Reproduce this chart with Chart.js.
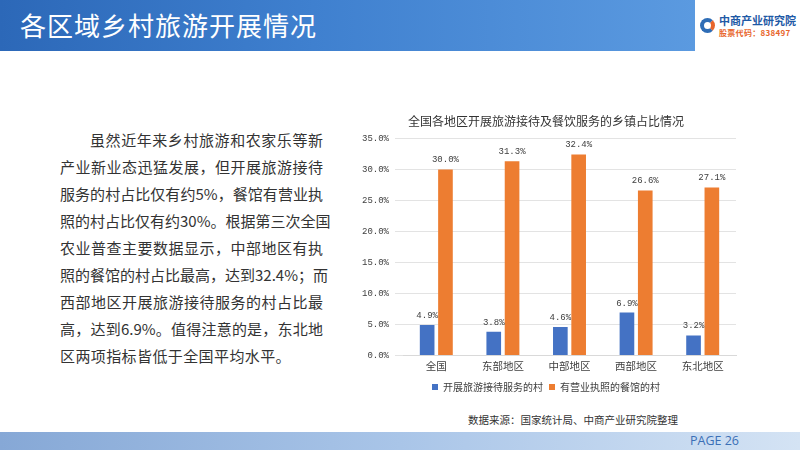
<!doctype html>
<html>
<head>
<meta charset="utf-8">
<script src="https://cdn.jsdelivr.net/npm/chart.js@4.4.8/dist/chart.umd.min.js"></script>
<style>
  html, body { margin: 0; padding: 0; background: #fff; }
  body { width: 800px; height: 450px; position: relative; overflow: hidden;
         font-family: "Noto Sans CJK SC", "Noto Sans", sans-serif; }
  #head { position: absolute; left: 0; top: 0; width: 695px; height: 51px;
          background: linear-gradient(90deg, #2c68b8 0%, #3f80cf 45%, #5b9ae0 100%); }
  #head h1 { margin: 0; position: absolute; left: 20px; top: 6px; color: #fff;
             font-size: 26px; font-weight: 400; letter-spacing: 1px; }
  #logo { position: absolute; left: 700px; top: 15px; }
  #logo .ring { position: absolute; left: 0; top: 3px; width: 15px; height: 15px; border-radius: 50%;
                border: 4px solid #2e6db6; border-right-color: #e8652b; box-sizing: border-box; }
  #logo .n { position: absolute; left: 19px; top: -3px; font-size: 11px; font-weight: 700;
             color: #1f5aa6; white-space: nowrap; }
  #logo .c { position: absolute; left: 19px; top: 12px; font-size: 8px; font-weight: 700;
             color: #e8652b; white-space: nowrap; letter-spacing: 0.3px; }
  #text { position: absolute; left: 60px; top: 126px; width: 263px; font-size: 15px;
          line-height: 27px; color: #333; }
  #text div { text-align: justify; text-align-last: justify; white-space: nowrap; }
  #text div.first { padding-left: 30px; }
  #text div.last { text-align-last: left; letter-spacing: 0.4px; }
  #box { position: absolute; left: 348px; top: 110px; width: 410px; height: 292px; }
  #src { position: absolute; left: 468px; top: 412px; font-size: 10.5px; color: #333; line-height: 16px; }
  #foot { position: absolute; left: 0; top: 432px; width: 800px; height: 18px;
          background: linear-gradient(90deg, #86a8d6 0%, #a9c5e8 50%, #d4e3f4 100%); }
  #page { position: absolute; left: 690px; top: 432px; font-size: 12.5px; color: #3a6fb6;
          font-family: "Open Sans", sans-serif; line-height: 18px; }
</style>
</head>
<body>
<div id="head"><h1>各区域乡村旅游开展情况</h1></div>
<div id="logo"><div class="ring"></div><div class="n">中商产业研究院</div><div class="c">股票代码：838497</div></div>
<div id="text">
  <div class="first">虽然近年来乡村旅游和农家乐等新</div>
  <div>产业新业态迅猛发展，但开展旅游接待</div>
  <div>服务的村占比仅有约5%，餐馆有营业执</div>
  <div>照的村占比仅有约30%。根据第三次全国</div>
  <div>农业普查主要数据显示，中部地区有执</div>
  <div>照的餐馆的村占比最高，达到32.4%；而</div>
  <div>西部地区开展旅游接待服务的村占比最</div>
  <div>高，达到6.9%。值得注意的是，东北地</div>
  <div class="last">区两项指标皆低于全国平均水平。</div>
</div>
<div id="box"><canvas id="chart"></canvas></div>
<div id="src">数据来源：国家统计局、中商产业研究院整理</div>
<div id="foot"></div>
<div id="page">PAGE 26</div>

<script>
const regions = ["全国", "东部地区", "中部地区", "西部地区", "东北地区"];
const tourismVillages = [4.9, 3.8, 4.6, 6.9, 3.2];
const licensedRestaurantVillages = [30.0, 31.3, 32.4, 26.6, 27.1];
const seriesNames = ["开展旅游接待服务的村", "有营业执照的餐馆的村"];
const chartTitle = "全国各地区开展旅游接待及餐饮服务的乡镇占比情况";

const barLabels = {
    id: "barLabels",
    afterDatasetsDraw(chart) {
        const ctx = chart.ctx;
        ctx.save();
        ctx.font = "9px 'Liberation Mono', monospace";
        ctx.fillStyle = "#404040";
        ctx.textAlign = "center";
        ctx.textBaseline = "bottom";
        chart.data.datasets.forEach((ds, i) => {
            chart.getDatasetMeta(i).data.forEach((bar, j) => {
                ctx.fillText(ds.data[j].toFixed(1) + "%", bar.x, bar.y - 5);
            });
        });
        ctx.restore();
    }
};

new Chart(document.getElementById("chart"), {
    type: "bar",
    data: {
        labels: regions,
        datasets: [{
            label: seriesNames[0],
            data: tourismVillages,
            backgroundColor: "#4472C4",
            categoryPercentage: 0.55,
            barPercentage: 0.8
        }, {
            label: seriesNames[1],
            data: licensedRestaurantVillages,
            backgroundColor: "#ED7D31",
            categoryPercentage: 0.55,
            barPercentage: 0.8
        }]
    },
    options: {
        responsive: true,
        maintainAspectRatio: false,
        animation: false,
        layout: { padding: { left: 8, right: 22 } },
        scales: {
            x: {
                grid: { display: false, drawTicks: false },
                border: { color: "#d9d9d9" },
                ticks: { color: "#404040", font: { size: 10.5, family: "'Noto Sans CJK SC'" }, padding: 4 }
            },
            y: {
                min: 0,
                max: 35,
                ticks: {
                    stepSize: 5,
                    color: "#404040",
                    padding: 6,
                    font: { size: 9, family: "'Liberation Mono', monospace" },
                    callback: v => v.toFixed(1) + "%"
                },
                grid: { color: "#e3e3e3" },
                border: { display: false }
            }
        },
        plugins: {
            title: {
                display: true,
                text: chartTitle,
                color: "#333",
                font: { size: 12, weight: "normal", family: "'Noto Sans CJK SC'" },
                padding: { top: 4, bottom: 10 }
            },
            legend: {
                position: "bottom",
                labels: {
                    boxWidth: 6,
                    boxHeight: 6,
                    padding: 6,
                    color: "#404040",
                    font: { size: 10, family: "'Noto Sans CJK SC'" }
                }
            },
            tooltip: { enabled: false }
        }
    },
    plugins: [barLabels]
});
</script>
</body>
</html>
